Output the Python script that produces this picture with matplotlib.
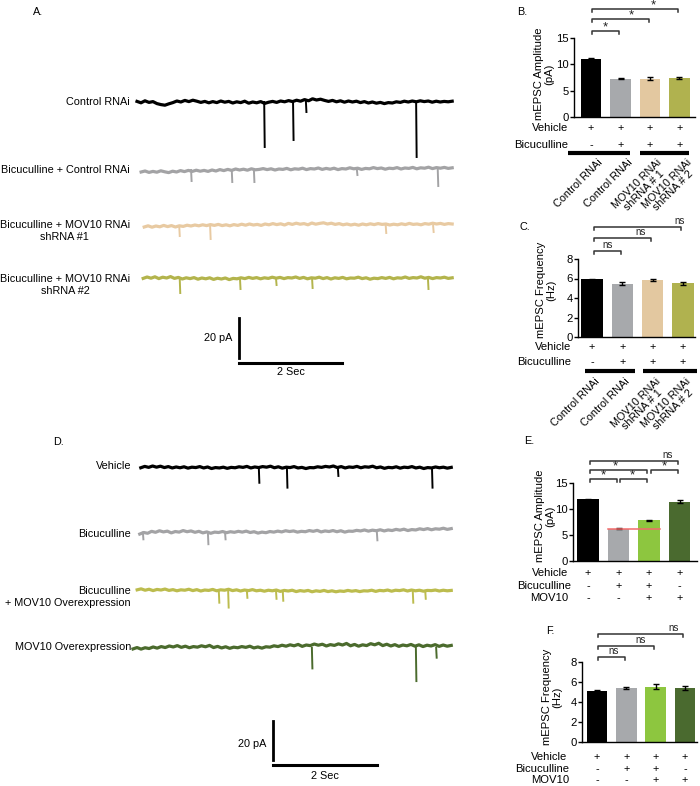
import numpy as np
import matplotlib
matplotlib.use("Agg")
import matplotlib.pyplot as plt
from matplotlib.transforms import blended_transform_factory

plt.rcParams['font.family'] = ['Liberation Sans', 'DejaVu Sans']

W, H = 700, 786

# ---- traces: baseline wobble (pA) and events (time s, amplitude pA) ----
trace_a_names = ['Control RNAi', 'Bicuculline + Control RNAi',
                 'Bicuculline + MOV10 RNAi\nshRNA #1',
                 'Bicuculline + MOV10 RNAi\nshRNA #2']
trace_a_colors = ['#000000', '#a3a3a5', '#e8caa2', '#b3b44c']
trace_a_start = [0.0, 0.08, 0.14, 0.12]
trace_a_wobble = [
    [0.3, -0.4, 0.6, -0.2, 0.2, -0.8, -1.3, -1.6, -0.9, -0.3, 0.5, 0.0, 0.8, 0.2, 0.9, 0.4,
     -0.2, 0.3, -0.4, 0.2, -0.3, 0.5, -0.1, 0.3, -0.5, 0.1, -0.3, 0.4, -0.6, 0.0, -0.4, 0.2,
     -0.7, -0.1, 0.3, -0.2, 0.5, 0.1, 0.7, 0.2, 0.9, 0.4, 1.2, 0.6, 1.6, 1.0, 1.4, 0.8,
     0.3, 0.8, 0.1, 0.6, -0.1, 0.5, 0.0, 0.4, -0.3, 0.2, -0.5, 0.0, -0.6, -0.2, -0.8, -0.3,
     -0.5, 0.1, -0.2, 0.4, 0.0, 0.5, 0.1, 0.6, 0.2, 0.5, -0.1, 0.4, 0.0, 0.3, 0.1, 0.4],
    [-1.0, -0.5, -1.2, -0.7, -1.1, -0.4, -0.9, -1.3, -0.6, -1.0, -0.3, -0.8, -0.2, -0.7, -0.1, -0.6,
     -0.2, -0.7, 0.0, -0.5, 0.2, -0.3, 0.3, -0.2, 0.5, 0.0, 0.4, -0.1, 0.6, 0.1, 0.3, 0.7,
     0.2, 0.6, 0.0, 0.5, 0.3, 0.8, 0.1, 0.6, 0.4, 0.9, 0.2, 0.7, 0.5, 1.0, 0.3, 0.8,
     0.4, 0.9, 0.2, 0.7, 0.5, 1.1, 0.6, 0.9, 0.3, 0.8, 0.6, 1.2, 0.7, 1.0, 0.4, 0.9,
     0.7, 1.2, 0.5, 1.0, 0.8, 1.3, 0.6, 1.1, 0.9, 1.4, 0.7, 1.2, 0.9, 1.3, 0.8, 1.1],
    [-0.5, 0.1, -0.6, 0.0, -0.4, 0.3, -0.3, 0.2, -0.5, 0.1, -0.2, 0.4, 0.0, 0.5, 0.1, 0.6,
     0.2, 0.7, 0.3, 0.8, 0.2, 0.6, 0.1, 0.7, 0.3, 0.9, 0.4, 1.0, 0.5, 0.8, 0.3, 1.0,
     0.6, 1.2, 0.7, 1.1, 0.5, 1.3, 0.8, 1.4, 0.9, 1.2, 0.6, 1.5, 0.9, 1.3, 1.6, 1.0,
     1.4, 0.8, 1.2, 0.6, 1.0, 0.5, 0.9, 0.4, 1.0, 0.6, 1.1, 0.7, 1.2, 0.8, 1.0, 0.5,
     0.9, 0.6, 1.1, 0.7, 1.3, 0.8, 1.0, 0.6, 1.2, 0.9, 1.4, 1.0, 1.3, 0.8, 1.2, 1.0],
    [0.3, 1.0, 0.4, 1.1, 0.2, 0.9, 0.5, 1.2, 0.3, 0.8, 0.0, 0.6, 0.2, 0.7, -0.1, 0.5,
     0.1, 0.6, -0.2, 0.4, 0.0, 0.5, -0.3, 0.3, 0.1, 0.6, 0.2, 0.8, 0.3, 0.7, 0.1, 0.6,
     0.3, 0.9, 0.4, 0.8, 0.2, 0.7, 0.5, 1.0, 0.3, 0.8, 0.1, 0.6, 0.4, 0.9, 0.2, 0.7,
     0.0, 0.6, 0.3, 0.8, 0.1, 0.5, 0.4, 0.9, 0.2, 0.6, -0.1, 0.4, 0.2, 0.7, 0.3, 0.8,
     0.1, 0.6, 0.4, 1.0, 0.3, 0.7, 0.5, 1.1, 0.4, 0.8, 0.2, 0.7, 0.5, 0.9, 0.3, 0.6]]
trace_a_events = [
    [(2.47, 22.5), (3.03, 19.0), (3.28, 5.0), (5.42, 27.5)],
    [(1.05, 5.5), (1.84, 6.0), (2.27, 6.0), (4.27, 2.5), (5.84, 8.0)],
    [(0.82, 5.0), (1.42, 6.5), (4.83, 3.5), (5.75, 3.0)],
    [(0.83, 7.0), (2.00, 5.0), (2.70, 3.0), (3.40, 4.5), (5.65, 5.0)]]

trace_d_names = ['Vehicle', 'Bicuculline', 'Bicuculline\n+ MOV10 Overexpression',
                 'MOV10 Overexpression']
trace_d_colors = ['#000000', '#a3a3a5', '#bcbc4e', '#4b6b2d']
trace_d_start = [0.15, 0.13, 0.08, 0.0]
trace_d_wobble = [
    [0.2, 0.9, 0.4, 1.1, 0.5, 1.0, 0.3, 0.8, 0.1, 0.6, 0.2, 0.7, 0.0, 0.5, 0.3, 0.8,
     0.1, 0.6, -0.2, 0.3, 0.1, 0.5, -0.1, 0.4, 0.2, 0.7, 0.4, 0.9, 0.1, 0.6, 0.3, 0.8,
     0.5, 1.0, 0.2, 0.7, 0.0, 0.5, 0.3, 0.8, 0.1, 0.4, -0.2, 0.3, 0.2, 0.7, 0.4, 0.9,
     0.6, 1.1, 0.3, 0.8, 0.1, 0.6, 0.4, 0.9, 0.2, 0.7, 0.5, 1.0, 0.2, 0.6, -0.1, 0.4,
     0.2, 0.7, 0.0, 0.5, 0.3, 0.8, 0.1, 0.5, -0.2, 0.3, 0.1, 0.6, 0.2, 0.5, 0.0, 0.4],
    [-0.8, 0.0, -0.4, 0.6, 0.1, 0.9, 0.3, 0.7, -0.2, 0.5, 0.2, 1.0, 0.4, 0.8, 0.1, 0.6,
     -0.2, 0.3, -0.4, 0.2, 0.0, 0.5, -0.1, 0.4, 0.1, 0.6, 0.2, 0.7, 0.0, 0.4, -0.3, 0.2,
     -0.1, 0.5, 0.2, 0.7, 0.3, 0.9, 0.5, 0.8, 0.2, 0.6, 0.4, 1.0, 0.6, 1.1, 0.3, 0.8,
     0.5, 1.0, 0.4, 0.9, 0.2, 0.7, 0.6, 1.1, 0.8, 1.3, 0.7, 1.2, 0.9, 1.4, 0.8, 1.3,
     1.0, 1.6, 1.2, 1.7, 1.0, 1.5, 1.3, 1.9, 1.5, 2.0, 1.4, 1.9, 1.7, 2.2, 1.6, 2.0],
    [0.6, 1.1, 0.4, 0.9, 0.2, 0.8, 0.5, 1.0, 0.3, 0.7, 0.1, 0.6, 0.4, 0.9, 0.2, 0.7,
     0.0, 0.5, 0.3, 0.8, 0.1, 0.6, 0.4, 0.9, 0.2, 0.6, 0.0, 0.5, 0.2, 0.7, 0.1, 0.4,
     -0.1, 0.4, 0.1, 0.5, -0.2, 0.3, 0.0, 0.4, -0.3, 0.2, -0.1, 0.3, -0.4, 0.1, -0.2, 0.3,
     -0.3, 0.1, -0.4, 0.0, -0.2, 0.3, -0.1, 0.2, -0.3, 0.1, 0.0, 0.4, -0.2, 0.3, 0.1, 0.5,
     -0.1, 0.4, 0.2, 0.6, 0.0, 0.5, 0.1, 0.4, -0.1, 0.3, 0.2, 0.5, 0.0, 0.4, 0.1, 0.3],
    [-0.5, 0.2, -0.6, 0.1, -0.3, 0.5, -0.1, 0.7, 0.2, 1.0, 0.5, 1.2, 0.3, 0.9, 0.1, 0.7,
     0.4, 1.1, 0.6, 1.3, 0.2, 0.8, 0.0, 0.6, -0.2, 0.4, 0.1, 0.7, 0.3, 0.9, 0.0, 0.5,
     -0.1, 0.6, 0.4, 1.1, 0.7, 1.4, 0.9, 1.6, 1.1, 1.8, 0.8, 1.5, 1.2, 2.0, 1.4, 1.9,
     1.0, 1.7, 1.3, 2.1, 1.5, 2.3, 1.1, 1.8, 0.9, 1.6, 1.2, 2.2, 1.6, 2.4, 1.2, 1.9,
     1.0, 1.7, 0.8, 1.5, 1.1, 1.8, 0.9, 1.6, 0.7, 1.4, 1.0, 1.7, 0.8, 1.5, 0.9, 1.3]]
trace_d_events = [
    [(2.42, 7.5), (2.96, 10.0), (3.94, 4.0), (5.75, 10.0)],
    [(0.19, 3.5), (1.44, 6.0), (1.77, 3.5), (4.69, 4.0)],
    [(1.65, 6.0), (1.83, 8.5), (2.19, 3.5), (2.75, 4.0), (2.88, 5.0), (5.38, 6.0), (5.62, 4.0)],
    [(3.44, 10.5), (5.44, 17.0), (5.83, 5.0)]]
trace_end = 6.12

# ---- bar panels ----
rnai_colors = ['#000000', '#a7a9ac', '#e3c8a0', '#b0b24f']
oe_colors = ['#000000', '#a7a9ac', '#8dc63f', '#4a6a2f']
rnai_groups = ['Control RNAi', 'Control RNAi', 'MOV10 RNAi\nshRNA # 1', 'MOV10 RNAi\nshRNA # 2']

amp_rnai = [11.1, 7.3, 7.3, 7.4]
amp_rnai_err = [0.15, 0.15, 0.2, 0.15]
freq_rnai = [5.9, 5.45, 5.85, 5.5]
freq_rnai_err = [0.06, 0.15, 0.15, 0.12]
amp_oe = [11.9, 6.2, 7.8, 11.4]
amp_oe_err = [0.1, 0.1, 0.15, 0.25]
freq_oe = [5.1, 5.45, 5.55, 5.45]
freq_oe_err = [0.07, 0.1, 0.25, 0.2]

rnai_rows = [('Vehicle', ['+', '+', '+', '+']),
             ('Bicuculline', ['-', '+', '+', '+'])]
oe_rows = [('Vehicle', ['+', '+', '+', '+']),
           ('Bicuculline', ['-', '+', '+', '-']),
           ('MOV10', ['-', '-', '+', '+'])]

# comparisons: (bar i, bar j, label, label x in bar units)
sig_b = [(0, 1, '*', 0.5), (0, 2, '*', 1.35), (0, 3, '*', 2.1)]
sig_c = [(0, 1, 'ns', 0.5), (0, 2, 'ns', 1.6), (0, 3, 'ns', 2.9)]
sig_e = [(0, 1, '*', 0.5), (1, 2, '*', 1.45), (0, 2, '*', 0.9), (2, 3, '*', 2.5), (0, 3, 'ns', 2.6)]
sig_f = [(0, 1, 'ns', 0.55), (0, 2, 'ns', 1.5), (0, 3, 'ns', 2.6)]

fig = plt.figure(figsize=(7, 7.86), dpi=100)
over = fig.add_axes([0, 0, 1, 1])
over.set_xlim(0, W)
over.set_ylim(H, 0)
over.axis('off')

FS = 7.8


def px_axes(x0, x1, ytop, ybot):
    a = fig.add_axes([x0 / W, 1 - ybot / H, (x1 - x0) / W, (ybot - ytop) / H])
    a.patch.set_alpha(0)
    return a


def draw_traces(ax, offsets, starts, wobble, events, colors):
    for off, t0, wob, ev, c in zip(offsets, starts, wobble, events, colors):
        t = np.linspace(t0, trace_end, len(wob))
        ax.plot(t, off + np.array(wob), color=c, lw=2.3)
        for te, amp in ev:
            ax.plot([te, te + 0.01], [off, off - amp], color=c, lw=1.4)


def scale_bar(ax, t0, y0, ytxt, ysec):
    ax.plot([t0, t0], [y0 + 2.5, y0 + 22.5], color='black', lw=2)
    ax.plot([t0, t0 + 2], [y0, y0], color='black', lw=2.2)
    ax.text(t0 - 0.12, ytxt, '20 pA', ha='right', va='center', fontsize=FS)
    ax.text(t0 + 1, ysec, '2 Sec', ha='center', va='center', fontsize=FS)


# Panel A traces: 51.5 px per second, 2 px per pA
axA = px_axes(125, 460, 50, 400)
axA.set_xlim((125 - 137) / 51.5, (460 - 137) / 51.5)
axA.set_ylim(0, 175)
axA.axis('off')
draw_traces(axA, [149, 115, 87, 60.5], trace_a_start, trace_a_wobble,
            trace_a_events, trace_a_colors)
scale_bar(axA, 1.98, 18.5, 31, 14)
for name, y in zip(trace_a_names, [102, 170, 231, 285]):
    over.text(130, y, name, ha='right', va='center', fontsize=FS,
              multialignment='center', linespacing=1.25)

# Panel D traces
axD = px_axes(125, 460, 430, 786)
axD.set_xlim((125 - 133) / 52, (460 - 133) / 52)
axD.set_ylim(0, 356 / 1.95)
axD.axis('off')
draw_traces(axD, [163, 130, 100, 70.8], trace_d_start, trace_d_wobble,
            trace_d_events, trace_d_colors)
scale_bar(axD, 2.69, 10.8, 21.5, 5.1)
for name, y in zip(trace_d_names, [466, 534, 597, 647]):
    over.text(131, y, name, ha='right', va='center', fontsize=FS,
              multialignment='right', linespacing=1.25)


def bar_panel(x0, x1, y0px, ytop_px, ppu, bar0px, spacing, ymax_tick, ticks,
              vals, errs, colors, ylabel, ylab_xy, sigs, levels, rows, row_y, row_x):
    left = (x0 - bar0px) / spacing
    right = (x1 - bar0px) / spacing
    ax = px_axes(x0, x1, ytop_px, y0px)
    ax.set_xlim(left, right)
    ax.set_ylim(0, (y0px - ytop_px) / ppu)
    xs = np.arange(len(vals))
    ax.bar(xs, vals, width=0.7, color=colors, zorder=2)
    ax.errorbar(xs, vals, yerr=errs, fmt='none', ecolor='black', elinewidth=1,
                capsize=2.5, capthick=1, zorder=3)
    for s in ['top', 'right']:
        ax.spines[s].set_visible(False)
    ax.spines['left'].set_bounds(0, ymax_tick)
    ax.spines['left'].set_linewidth(1)
    ax.spines['bottom'].set_linewidth(1)
    ax.set_yticks(ticks)
    ax.set_xticks([])
    ax.tick_params(axis='y', length=3, width=1, labelsize=FS + 0.3, pad=1)
    tick = 3 / ppu
    for (i, j, lab, tx), lev in zip(sigs, levels):
        ax.plot([i + 0.05, i + 0.05, j - 0.05, j - 0.05],
                [lev - tick, lev, lev, lev - tick], color='#333333', lw=1.1,
                clip_on=False)
        fs = 9.5 if lab == '*' else 7
        dy = 3.5 if lab == '*' else 6
        ax.text(tx, lev + dy / ppu, lab, ha='center', va='center', fontsize=fs,
                color='#222222')
    over.text(ylab_xy[0], ylab_xy[1], ylabel, rotation=90, ha='center', va='center',
              fontsize=FS + 0.3, multialignment='center', linespacing=1.05)
    trans = blended_transform_factory(ax.transData, over.transData)
    for (name, signs), y, rx in zip(rows, row_y, row_x):
        over.text(rx, y, name, ha='right', va='center', fontsize=FS + 0.3)
        for i, s in enumerate(signs):
            ax.text(i, y, s, ha='center', va='center', fontsize=FS, transform=trans,
                    clip_on=False)
    return ax, trans


# Panel B
axB, trB = bar_panel(574, 695, 117, 2, 5.27, 591, 29.5, 15, [0, 5, 10, 15],
                     amp_rnai, amp_rnai_err, rnai_colors, 'mEPSC Amplitude\n(pA)',
                     (544, 74), sig_b, [16.3, 18.6, 20.5], rnai_rows, [128, 145],
                     [568, 568])
# Panel C
axC, trC = bar_panel(578, 695, 337, 220, 9.75, 592, 30.3, 8, [0, 2, 4, 6, 8],
                     freq_rnai, freq_rnai_err, rnai_colors, 'mEPSC Frequency\n(Hz)',
                     (546, 290), sig_c, [8.8, 10.2, 11.3], rnai_rows, [347, 362],
                     [571, 571])
for ax, tr, yl, ylab, dx in [(axB, trB, 153, 157, 0.22), (axC, trC, 371, 376, 0.08)]:
    spans = [(-0.78, 1.32), (1.66, 3.32)] if ax is axB else [(-0.23, 1.42), (1.68, 3.45)]
    for a, b in spans:
        ax.plot([a, b], [yl, yl], color='black', lw=3, transform=tr, clip_on=False,
                solid_capstyle='butt')
    for i, lab in enumerate(rnai_groups):
        ax.text(i + dx, ylab, lab, rotation=45, ha='right', va='top',
                rotation_mode='anchor', fontsize=FS, multialignment='center',
                transform=tr, clip_on=False, linespacing=1.0)

# Panel E
axE, trE = bar_panel(573, 697, 561, 445, 5.2, 588, 30.5, 15, [0, 5, 10, 15],
                     amp_oe, amp_oe_err, oe_colors, 'mEPSC Amplitude\n(pA)',
                     (545, 516), sig_e, [15.8, 15.8, 17.5, 17.5, 19.2], oe_rows,
                     [573, 586, 598], [568, 571, 568])
axE.plot([1 - 0.35, 2 + 0.35], [amp_oe[1], amp_oe[1]], color='#f26b6b', lw=1.1, zorder=4)

# Panel F
axF, trF = bar_panel(582, 697, 742, 625, 10, 597, 29.3, 8, [0, 2, 4, 6, 8],
                     freq_oe, freq_oe_err, oe_colors, 'mEPSC Frequency\n(Hz)',
                     (552, 697), sig_f, [8.5, 9.6, 10.8], oe_rows,
                     [757, 769, 780], [567, 569, 569])

for lab, x, y in [('A.', 33, 12), ('B.', 517, 12), ('C.', 519, 227),
                  ('D.', 53, 442), ('E.', 524, 441), ('F.', 546, 631)]:
    over.text(x, y, lab, ha='left', va='center', fontsize=FS)

fig.savefig('out.png', dpi=100)
